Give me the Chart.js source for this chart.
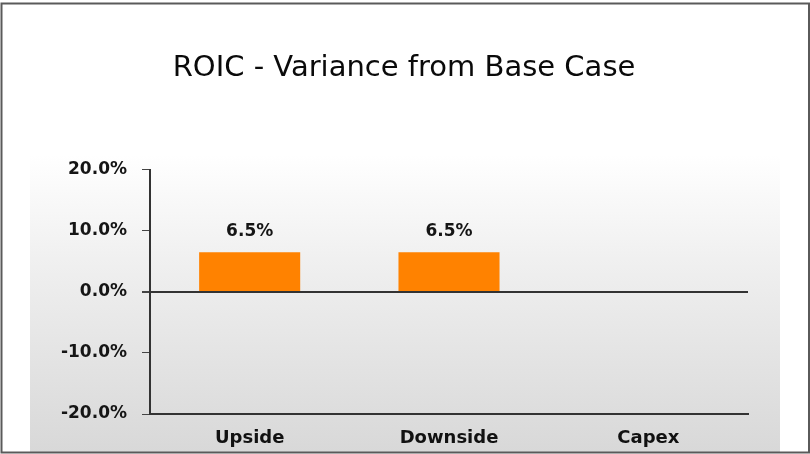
<!DOCTYPE html>
<html>
<head>
<meta charset="utf-8">
<script src="https://cdn.jsdelivr.net/npm/chart.js@4/dist/chart.umd.min.js"></script>
<style>
  html, body { margin: 0; padding: 0; background: #ffffff; }
  #wrap { width: 810px; height: 454px; position: relative; }
  canvas { display: block; }
</style>
</head>
<body>
<div id="wrap"><canvas id="c" width="810" height="454"></canvas></div>
<script>
// ---- data ----
const chartTitle = "ROIC - Variance from Base Case";
const categories = ["Upside", "Downside", "Capex"];
const roicVariance = [6.5, 6.5, null];   // percent
const yMin = -20;
const yMax = 20;
const yStep = 10;

const LABEL_FONT = "'DejaVu Sans', 'Liberation Sans', Arial, sans-serif";

const backgroundPlugin = {
  id: 'panelBackground',
  beforeDraw(chart) {
    const ctx = chart.ctx;
    ctx.save();
    ctx.fillStyle = '#ffffff';
    ctx.fillRect(0, 0, chart.width, chart.height);
    // gradient panel behind the plot
    const top = 155, bottom = 452, left = 30, right = 780;
    const g = ctx.createLinearGradient(0, top, 0, bottom);
    g.addColorStop(0, '#ffffff');
    g.addColorStop(0.35, '#f0f0f0');
    g.addColorStop(1, '#d8d8d8');
    ctx.fillStyle = g;
    ctx.fillRect(left, top, right - left, bottom - top);
    ctx.restore();
  },
  afterDraw(chart) {
    const ctx = chart.ctx;
    ctx.save();
    ctx.strokeStyle = '#5a5a5a';
    ctx.lineWidth = 2;
    ctx.strokeRect(1.5, 3.5, chart.width - 2.5, chart.height - 5);
    ctx.restore();
  }
};

const valueLabelPlugin = {
  id: 'valueLabels',
  afterDatasetsDraw(chart) {
    const ctx = chart.ctx;
    const meta = chart.getDatasetMeta(0);
    const data = chart.data.datasets[0].data;
    ctx.save();
    ctx.font = "bold 17px " + LABEL_FONT;
    ctx.fillStyle = '#151515';
    ctx.textAlign = 'center';
    ctx.textBaseline = 'middle';
    meta.data.forEach((bar, i) => {
      const v = data[i];
      if (v === null || v === undefined) return;
      ctx.fillText(v.toFixed(1) + '%', bar.x, bar.y - 21);
    });
    ctx.restore();
  }
};

new Chart(document.getElementById('c'), {
  type: 'bar',
  data: {
    labels: categories,
    datasets: [{
      data: roicVariance,
      backgroundColor: '#ff8200',
      borderWidth: 0,
      categoryPercentage: 1.0,
      barPercentage: 0.507
    }]
  },
  options: {
    responsive: false,
    animation: false,
    events: [],
    layout: { padding: { left: 60, right: 62, top: 0, bottom: 0 } },
    plugins: {
      legend: { display: false },
      tooltip: { enabled: false },
      title: {
        display: true,
        text: chartTitle,
        color: '#0a0a0a',
        font: { family: LABEL_FONT, size: 29, weight: 'normal', lineHeight: 1.2 },
        padding: { top: 51, bottom: 84 }
      }
    },
    scales: {
      x: {
        grid: { display: false },
        border: { display: true, color: '#333333', width: 2 },
        ticks: {
          color: '#111111',
          font: { family: LABEL_FONT, size: 18, weight: 'bold' },
          padding: 6,
          maxRotation: 0
        },
        afterFit(scale) { scale.height = 40; }
      },
      y: {
        min: yMin,
        max: yMax,
        grid: {
          drawOnChartArea: true,
          drawTicks: true,
          tickLength: 8,
          tickColor: '#444444',
          color: (c) => (c.tick && c.tick.value === 0) ? '#333333' : 'rgba(0,0,0,0)',
          lineWidth: (c) => (c.tick && c.tick.value === 0) ? 2 : 1
        },
        border: { display: true, color: '#333333', width: 2 },
        ticks: {
          stepSize: yStep,
          color: '#151515',
          font: { family: LABEL_FONT, size: 17, weight: 'bold' },
          padding: 15,
          callback: (v) => Number(v).toFixed(1) + '%'
        },
        afterFit(scale) { scale.width = 90; }
      }
    }
  },
  plugins: [backgroundPlugin, valueLabelPlugin]
});
</script>
</body>
</html>
